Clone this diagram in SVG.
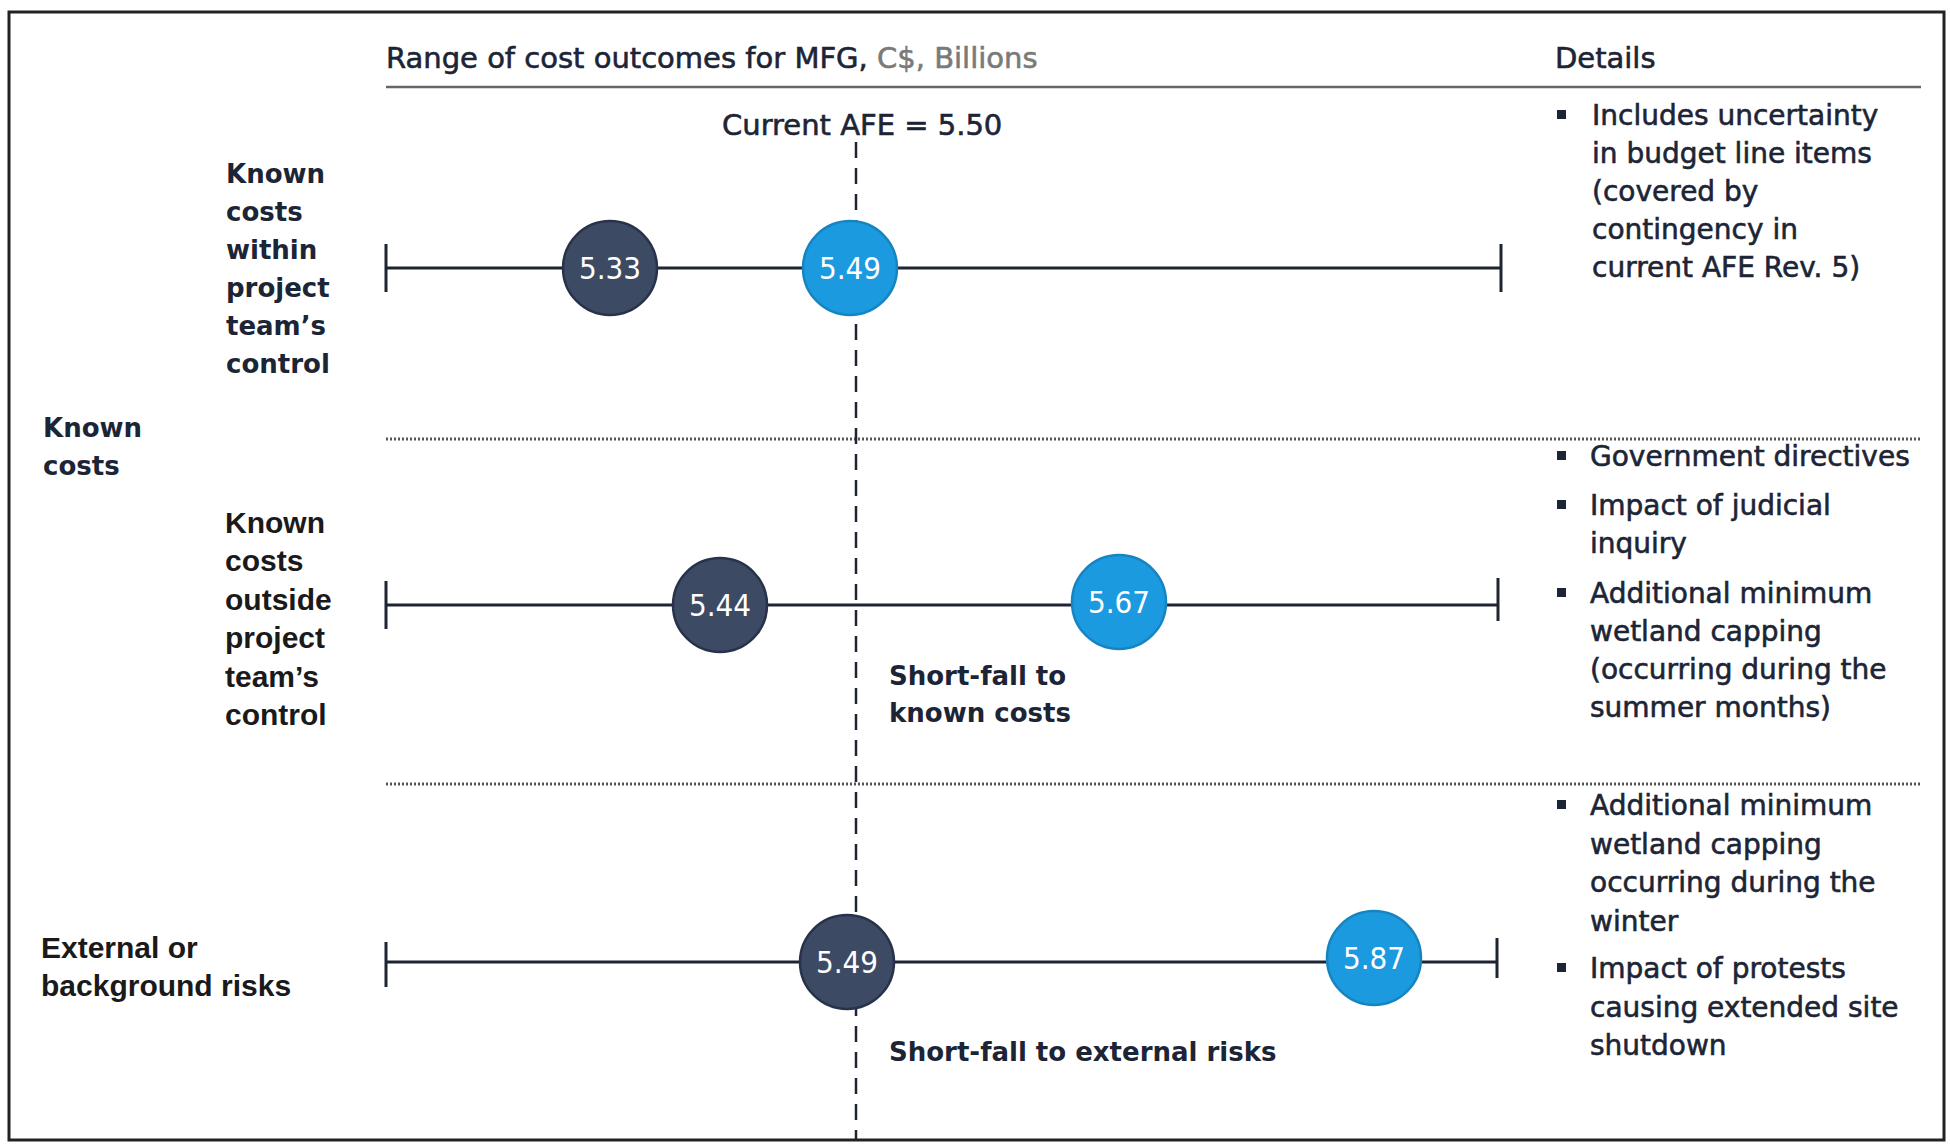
<svg xmlns="http://www.w3.org/2000/svg" width="1950" height="1145" viewBox="0 0 1950 1145">
<style>
.t{font-family:"DejaVu Sans","Liberation Sans",sans-serif;fill:#1c2536;stroke:#1c2536;stroke-width:0.6}
.h{font-size:29px}
.d{font-size:28px}
.lb{font-family:"DejaVu Sans","Liberation Sans",sans-serif;font-weight:bold;font-size:26px;fill:#1c2536}
.la{font-family:"Liberation Sans",Arial,sans-serif;font-weight:bold;font-size:30px;fill:#1a1a1a}
.v{font-family:"DejaVu Sans Condensed","DejaVu Sans","Liberation Sans",sans-serif;font-size:31px;fill:#ffffff;text-anchor:middle}
.dk{fill:#3d4a63;stroke:#28324a;stroke-width:2.5}
.bl{fill:#1b9ae0;stroke:#1784c2;stroke-width:2.5}
.rl{stroke:#1e2530;stroke-width:3;fill:none}
.dot{stroke:#555;stroke-width:3;stroke-dasharray:2 2;fill:none}
.bu{fill:#1c2536}
</style>
<rect x="0" y="0" width="1950" height="1145" fill="#ffffff"/>
<rect x="9" y="12" width="1935" height="1128" fill="none" stroke="#222" stroke-width="3"/>

<g id="header">
<text class="t h" x="386" y="68">Range of cost outcomes for MFG, <tspan fill="#7a7a7a" stroke="#7a7a7a">C$, Billions</tspan></text>
<text class="t h" x="1555" y="68">Details</text>
<line x1="386" y1="87" x2="1921" y2="87" stroke="#666" stroke-width="2.5"/>
<text class="t h" x="722" y="135">Current AFE = 5.50</text>
</g>

<g id="separators">
<line class="dot" x1="386" y1="439" x2="1921" y2="439"/>
<line class="dot" x1="386" y1="784" x2="1921" y2="784"/>
</g>

<g id="connectors">
<line x1="856" y1="142" x2="856" y2="1140" stroke="#1e2530" stroke-width="2.5" stroke-dasharray="16 10"/>
<path class="rl" d="M386 268H1501M386 244V292M1501 244V292"/>
<path class="rl" d="M386 605H1498M386 581V629M1498 578V621"/>
<path class="rl" d="M386 962H1497M386 942V987M1497 938V978"/>
</g>

<g id="group-known-costs">
<text class="lb" x="43" y="437">Known</text>
<text class="lb" x="43" y="475">costs</text>
</g>

<g id="row1-label">
<text class="lb" x="226" y="183">Known</text>
<text class="lb" x="226" y="221">costs</text>
<text class="lb" x="226" y="259">within</text>
<text class="lb" x="226" y="297">project</text>
<text class="lb" x="226" y="335">team’s</text>
<text class="lb" x="226" y="373">control</text>
</g>

<g id="row2-label">
<text class="la" x="225" y="533">Known</text>
<text class="la" x="225" y="571">costs</text>
<text class="la" x="225" y="610">outside</text>
<text class="la" x="225" y="648">project</text>
<text class="la" x="225" y="687">team’s</text>
<text class="la" x="225" y="725">control</text>
</g>

<g id="row3-label">
<text class="la" x="41" y="958">External or</text>
<text class="la" x="41" y="996">background risks</text>
</g>

<g id="node-533"><circle class="dk" cx="610" cy="268" r="47"/><text class="v" x="610" y="279">5.33</text></g>
<g id="node-549a"><circle class="bl" cx="850" cy="268" r="47"/><text class="v" x="850" y="279">5.49</text></g>
<g id="node-544"><circle class="dk" cx="720" cy="605" r="47"/><text class="v" x="720" y="616">5.44</text></g>
<g id="node-567"><circle class="bl" cx="1119" cy="602" r="47"/><text class="v" x="1119" y="613">5.67</text></g>
<g id="node-549b"><circle class="dk" cx="847" cy="962" r="47"/><text class="v" x="847" y="973">5.49</text></g>
<g id="node-587"><circle class="bl" cx="1374" cy="958" r="47"/><text class="v" x="1374" y="969">5.87</text></g>

<g id="shortfall-known">
<text class="lb" x="889" y="685">Short-fall to</text>
<text class="lb" x="889" y="722">known costs</text>
</g>
<g id="shortfall-external">
<text class="lb" x="889" y="1061">Short-fall to external risks</text>
</g>

<g id="details-row1">
<rect class="bu" x="1557" y="110" width="9" height="9"/>
<text class="t d" x="1592" y="125">Includes uncertainty</text>
<text class="t d" x="1592" y="163">in budget line items</text>
<text class="t d" x="1592" y="201">(covered by</text>
<text class="t d" x="1592" y="239">contingency in</text>
<text class="t d" x="1592" y="277">current AFE Rev. 5)</text>
</g>

<g id="details-row2">
<rect class="bu" x="1557" y="451" width="9" height="9"/>
<text class="t d" x="1590" y="466">Government directives</text>
<rect class="bu" x="1557" y="500" width="9" height="9"/>
<text class="t d" x="1590" y="515">Impact of judicial</text>
<text class="t d" x="1590" y="553">inquiry</text>
<rect class="bu" x="1557" y="588" width="9" height="9"/>
<text class="t d" x="1590" y="603">Additional minimum</text>
<text class="t d" x="1590" y="641">wetland capping</text>
<text class="t d" x="1590" y="679">(occurring during the</text>
<text class="t d" x="1590" y="717">summer months)</text>
</g>

<g id="details-row3">
<rect class="bu" x="1557" y="800" width="9" height="9"/>
<text class="t d" x="1590" y="815">Additional minimum</text>
<text class="t d" x="1590" y="854">wetland capping</text>
<text class="t d" x="1590" y="892">occurring during the</text>
<text class="t d" x="1590" y="931">winter</text>
<rect class="bu" x="1557" y="963" width="9" height="9"/>
<text class="t d" x="1590" y="978">Impact of protests</text>
<text class="t d" x="1590" y="1017">causing extended site</text>
<text class="t d" x="1590" y="1055">shutdown</text>
</g>
</svg>
